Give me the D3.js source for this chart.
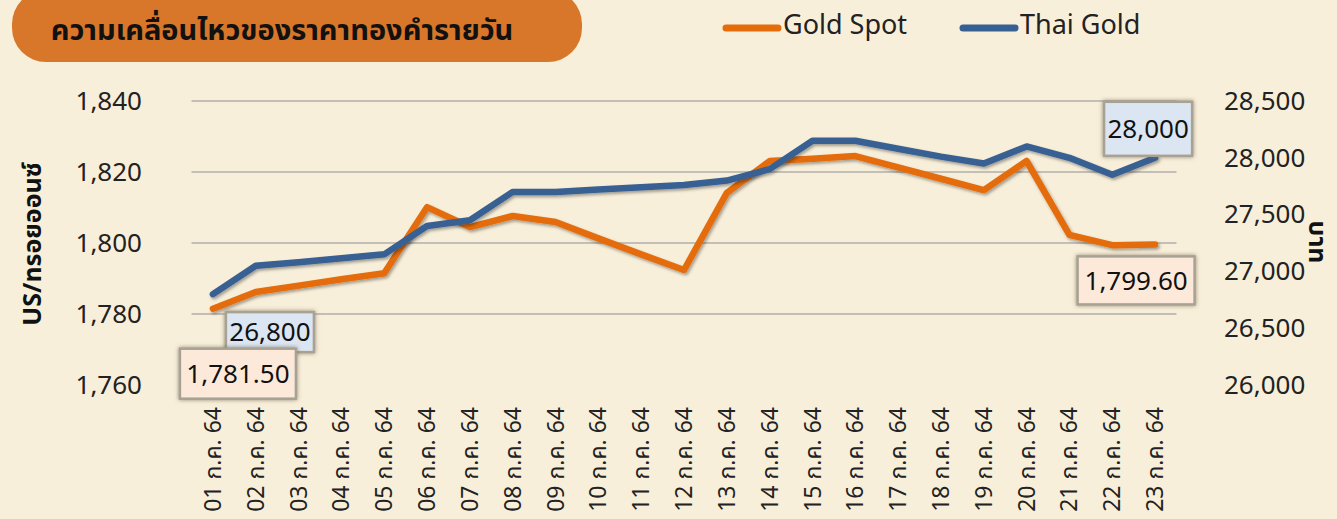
<!DOCTYPE html>
<meta charset="utf-8">
<script src="https://cdn.jsdelivr.net/npm/d3@7"></script>
<style>
  body { margin: 0; background: #f8efda; }
  text { font-family: "Noto Sans", "Noto Sans Thai", "Noto Sans CJK SC", sans-serif; }
</style>
<body>
<script>

var width = 1337
var height = 519

// data
var days = ["01", "02", "03", "04", "05", "06", "07", "08", "09", "10", "11", "12",
            "13", "14", "15", "16", "17", "18", "19", "20", "21", "22", "23"]
var goldSpot = [1781.50, 1786.2, 1788.0, 1789.8, 1791.5, 1810.1, 1804.5, 1807.6, 1805.9, 1801.3, 1796.8, 1792.4,
                1814.1, 1823.1, 1823.7, 1824.5, 1821.3, 1818.1, 1814.9, 1823.1, 1802.3, 1799.4, 1799.60]
var thaiGold = [26800, 27050, 27080, 27115, 27150, 27400, 27450, 27700, 27700, 27720, 27740, 27760,
                27800, 27900, 28150, 28150, 28080, 28010, 27950, 28100, 28000, 27850, 28000]
var leftTicks = [1760, 1780, 1800, 1820, 1840]
var rightTicks = [26000, 26500, 27000, 27500, 28000, 28500]

var orange = "#e46c0a"
var blue = "#376092"

var x = d3.scaleBand().domain(days).range([191.5, 1176.5])
var yL = d3.scaleLinear().domain([1760, 1840]).range([385, 101])
var yR = d3.scaleLinear().domain([26000, 28500]).range([385, 101])
var cx = function(d) { return x(d) + x.bandwidth() / 2 }

var svg = d3.select("body").append("svg")
            .attr("width", width)
            .attr("height", height)
            .style("display", "block")

var defs = svg.append("defs")
var sh = defs.append("filter").attr("id", "shadow").attr("x", "-20%").attr("y", "-20%").attr("width", "140%").attr("height", "160%")
sh.append("feDropShadow").attr("dx", 1.5).attr("dy", 2).attr("stdDeviation", 1.8).attr("flood-color", "#000").attr("flood-opacity", 0.35)
var bs = defs.append("filter").attr("id", "boxshadow").attr("x", "-20%").attr("y", "-30%").attr("width", "140%").attr("height", "160%")
bs.append("feDropShadow").attr("dx", 0).attr("dy", 0).attr("stdDeviation", 2).attr("flood-color", "#6b6048").attr("flood-opacity", 0.7)

// title pill
svg.append("rect").attr("x", 12).attr("y", -10).attr("width", 570).attr("height", 72).attr("rx", 34)
   .attr("fill", "#d8762a")
svg.append("text").attr("x", 282).attr("y", 40)
   .attr("text-anchor", "middle").style("font-size", "29px").style("font-weight", "bold").attr("fill", "#111")
   .text("ความเคลื่อนไหวของราคาทองคำรายวัน")

// legend
var legend = [["Gold Spot", orange, 723], ["Thai Gold", blue, 960]]
legend.forEach(function(l) {
  svg.append("line").attr("x1", l[2] + 3).attr("x2", l[2] + 55).attr("y1", 28).attr("y2", 28)
     .attr("stroke", l[1]).attr("stroke-width", 7).attr("stroke-linecap", "round")
  svg.append("text").attr("x", l[2] + 60).attr("y", 34).style("font-size", "27px").attr("fill", "#222").text(l[0])
})

// gridlines
svg.append("g").selectAll("line").data(leftTicks.slice(1)).join("line")
   .attr("x1", 191.5).attr("x2", 1176.5)
   .attr("y1", d => yL(d)).attr("y2", d => yL(d))
   .attr("stroke", "#c3bfb6").attr("stroke-width", 2)

// left axis
var axL = svg.append("g").attr("transform", "translate(150,0)")
   .call(d3.axisLeft(yL).tickValues(leftTicks).tickFormat(d3.format(",")).tickSize(0).tickPadding(8))
axL.select(".domain").remove()
axL.selectAll("text").style("font-size", "26px").attr("fill", "#222").style("font-family", '"Noto Sans", sans-serif')

// right axis
var axR = svg.append("g").attr("transform", "translate(1216,0)")
   .call(d3.axisRight(yR).tickValues(rightTicks).tickFormat(d3.format(",")).tickSize(0).tickPadding(8))
axR.select(".domain").remove()
axR.selectAll("text").style("font-size", "26px").attr("fill", "#222").style("font-family", '"Noto Sans", sans-serif')

// x axis
var axX = svg.append("g").attr("transform", "translate(0,400)")
   .call(d3.axisBottom(x).tickSize(0).tickFormat(d => d + " ก.ค. 64"))
axX.select(".domain").remove()
axX.selectAll("text").style("font-size", "23px").attr("fill", "#222")
   .attr("text-anchor", "end").attr("transform", "rotate(-90)")
   .attr("x", -7).attr("y", 0).attr("dy", "0.35em")

// axis titles
svg.append("text").attr("transform", "translate(41,244) rotate(-90)").attr("text-anchor", "middle")
   .style("font-size", "25px").style("font-weight", "bold").attr("fill", "#111").text("US/ทรอยออนซ์")
svg.append("text").attr("transform", "translate(1309,242) rotate(90)").attr("text-anchor", "middle")
   .style("font-size", "25px").style("font-weight", "bold").attr("fill", "#111").text("บาท")

// lines
var lineL = d3.line().x((d, i) => cx(days[i])).y(d => yL(d))
var lineR = d3.line().x((d, i) => cx(days[i])).y(d => yR(d))
svg.append("path").attr("d", lineL(goldSpot)).attr("fill", "none").attr("stroke", orange)
   .attr("stroke-width", 6.5).attr("stroke-linejoin", "round").attr("stroke-linecap", "round").attr("filter", "url(#shadow)")
svg.append("path").attr("d", lineR(thaiGold)).attr("fill", "none").attr("stroke", blue)
   .attr("stroke-width", 6.5).attr("stroke-linejoin", "round").attr("stroke-linecap", "round").attr("filter", "url(#shadow)")

// data labels
var n = days.length - 1
var labels = [
  { text: d3.format(",")(thaiGold[0]), px: cx(days[0]), py: yR(thaiGold[0]), dx: 57, dy: 38, w: 88, h: 40, fill: "#dce6f2" },
  { text: d3.format(",.2f")(goldSpot[0]), px: cx(days[0]), py: yL(goldSpot[0]), dx: 25, dy: 65, w: 116, h: 50, fill: "#fde9d9" },
  { text: d3.format(",")(thaiGold[n]), px: cx(days[n]), py: yR(thaiGold[n]), dx: -7, dy: -29, w: 88, h: 54, fill: "#dce6f2" },
  { text: d3.format(",.2f")(goldSpot[n]), px: cx(days[n]), py: yL(goldSpot[n]), dx: -19, dy: 36, w: 117, h: 48, fill: "#fde9d9" }
]
var lg = svg.append("g").selectAll("g").data(labels).join("g")
   .attr("transform", d => "translate(" + (d.px + d.dx) + "," + (d.py + d.dy) + ")")
lg.append("rect").attr("x", d => -d.w / 2).attr("y", d => -d.h / 2).attr("width", d => d.w).attr("height", d => d.h)
  .attr("fill", d => d.fill).attr("stroke", "#a8a294").attr("stroke-width", 2.5).attr("filter", "url(#boxshadow)")
lg.append("text").attr("text-anchor", "middle").attr("dy", "0.35em").style("font-size", "26px").attr("fill", "#111")
  .text(d => d.text)

</script>
</body>
